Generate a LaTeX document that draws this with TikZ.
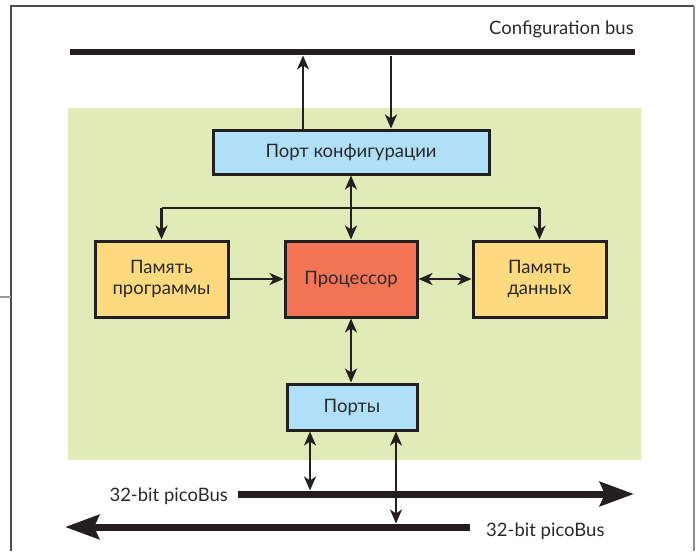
\documentclass[tikz,border=0pt]{standalone}
\usepackage{fontspec}
\setmainfont{Lato}
\usetikzlibrary{arrows.meta}
\definecolor{bgreen}{HTML}{E0EBB8}
\definecolor{lblue}{HTML}{B0E0F8}
\definecolor{myellow}{HTML}{FDD980}
\definecolor{salmon}{HTML}{F47456}
\definecolor{ink}{HTML}{231F20}
\definecolor{txt}{HTML}{2A2A2A}
\tikzset{
  tip/.tip={Stealth[length=14pt,width=12pt,inset=4pt]},
  blockbox/.style={draw=ink, line width=3pt, inner sep=0pt, text=txt, font=\fontsize{18.5}{21}\selectfont, align=center},
  conn/.style={draw=ink, line width=2.2pt, -tip},
  dconn/.style={draw=ink, line width=2.2pt, tip-tip},
  plain/.style={draw=ink, line width=2.2pt},
  bus/.style={draw=ink, line width=6.5pt},
  bigbus/.style={draw=ink, line width=7pt, -{Stealth[length=34pt,width=24pt,inset=5pt]}},
  lbl/.style={text=txt, font=\fontsize{18.5}{21}\selectfont, inner sep=0pt}
}
\begin{document}
\begin{tikzpicture}[x=1pt,y=-1pt]
\useasboundingbox (0,0) rectangle (700,551);
% frame
\draw[line width=1.5pt, draw=black!70] (11,551) -- (11,6) -- (694,6);
\draw[line width=2pt, draw=black!45] (694,6) -- (694,551);
\draw[line width=1.2pt, draw=black!40] (0,297) -- (11,297);
% green background
\fill[bgreen] (68,108) rectangle (641,460);
% configuration bus
\coordinate (cbL) at (70,52);
\coordinate (cbR) at (635,52);
\draw[bus] (cbL) -- (cbR);
\node[lbl, anchor=base east] (cblabel) at (634,35) {Configuration bus};
% blocks
\node[blockbox, fill=lblue, minimum width=276pt, minimum height=44pt] (cfg) at (351,152) {Порт конфигурации};
\node[blockbox, fill=myellow, minimum width=133pt, minimum height=76pt] (pmem) at (161.5,279) {Память\\программы};
\node[blockbox, fill=salmon, minimum width=132pt, minimum height=76pt] (cpu) at (351,279) {Процессор};
\node[blockbox, fill=myellow, minimum width=133pt, minimum height=76pt] (dmem) at (539.5,279) {Память\\данных};
\node[blockbox, fill=lblue, minimum width=130pt, minimum height=46pt] (ports) at (352,407) {Порты};
% config port <-> config bus
\coordinate (cbup) at (303,55.5);
\coordinate (cbdn) at (391,55.5);
\draw[conn] (cfg.north -| cbup) -- (cbup);
\draw[conn] (cbdn) -- (cfg.north -| cbdn);
% config port <-> cpu
\draw[dconn] (cfg.south -| cpu.north) -- (cpu.north);
% distribution line
\coordinate (dl) at (351,208);
\draw[plain] (pmem.north |- dl) -- (dmem.north |- dl);
\draw[conn] (pmem.north |- dl) -- (pmem.north);
\draw[conn] (dmem.north |- dl) -- (dmem.north);
% memory links
\draw[conn] (pmem.east) -- (cpu.west);
\draw[dconn] (cpu.east) -- (dmem.west);
% cpu <-> ports
\draw[dconn] (cpu.south) -- (cpu.south |- ports.north);
% picoBuses
\coordinate (b1s) at (238,494);
\coordinate (b1e) at (634,494);
\coordinate (b2s) at (470,527);
\coordinate (b2e) at (65,527);
\draw[bigbus] (b1s) -- (b1e);
\draw[bigbus] (b2s) -- (b2e);
\node[lbl, anchor=base east] (b1label) at (228,501) {32-bit picoBus};
\node[lbl, anchor=base west] (b2label) at (486,536) {32-bit picoBus};
% ports <-> buses
\coordinate (p1) at (310,490.5);
\coordinate (p2) at (396,523.5);
\draw[dconn] (ports.south -| p1) -- (p1);
\draw[dconn] (ports.south -| p2) -- (p2);
\end{tikzpicture}
\end{document}
